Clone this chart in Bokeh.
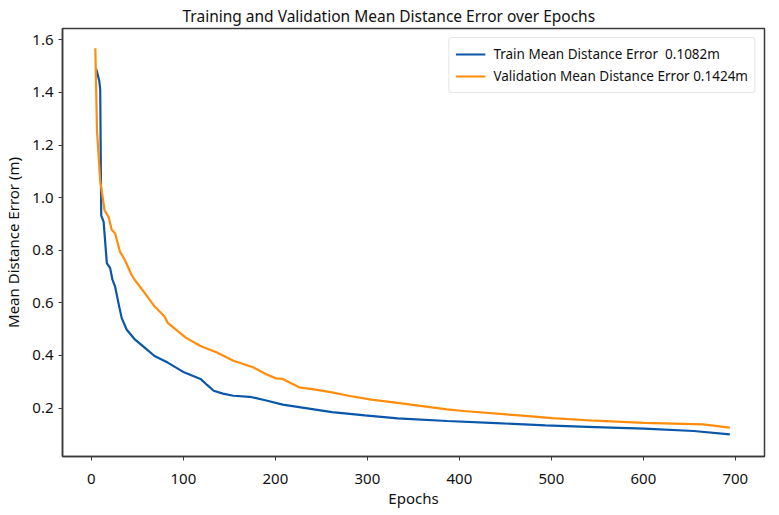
from bokeh.plotting import figure
from bokeh.models import Range1d, FixedTicker, Legend, LegendItem, PrintfTickFormatter
from bokeh.embed import file_html
from bokeh.resources import INLINE

# values
train_epochs = [5, 6, 8.6, 9.6, 10.7, 13.3, 16.8, 20.4, 22.9, 25.7, 29.4, 32.9, 38.3, 47.2,
                57.9, 68.6, 83, 100.7, 118.6, 125.8, 132.9, 143, 154.3, 172.2, 190.1, 208,
                225.8, 261.5, 297.3, 333, 386.5, 440, 493.5, 547.4, 601, 654.7, 694]
train_err = [1.49, 1.48, 1.443, 1.411, 0.933, 0.908, 0.751, 0.732, 0.688, 0.663, 0.6, 0.543,
             0.499, 0.461, 0.430, 0.398, 0.373, 0.336, 0.311, 0.288, 0.266, 0.255, 0.247,
             0.243, 0.229, 0.213, 0.204, 0.185, 0.172, 0.161, 0.151, 0.143, 0.134, 0.128,
             0.122, 0.113, 0.100]

val_epochs = [4.3, 6.1, 9.6, 14.3, 18.6, 22.2, 25.7, 31, 36.4, 43.6, 47, 57.9, 68.6, 79.3,
              83, 102.6, 118.6, 136.5, 154.3, 175.8, 190, 200.8, 208, 225.8, 243.7, 261.5,
              279.4, 304.4, 333, 386.5, 404.4, 465, 501, 547.4, 601, 665, 694]
val_err = [1.568, 1.254, 1.065, 0.952, 0.927, 0.877, 0.865, 0.795, 0.763, 0.707, 0.688,
           0.638, 0.587, 0.549, 0.524, 0.468, 0.436, 0.411, 0.380, 0.355, 0.329, 0.313,
           0.311, 0.279, 0.270, 0.260, 0.247, 0.232, 0.220, 0.195, 0.189, 0.172, 0.162,
           0.152, 0.144, 0.138, 0.126]

x_ticks = [0, 100, 200, 300, 400, 500, 600, 700]
y_ticks = [0.2, 0.4, 0.6, 0.8, 1.0, 1.2, 1.4, 1.6]

train_label = "Train Mean Distance Error  0.1082m"
val_label = "Validation Mean Distance Error 0.1424m"

FONT = "Noto Sans"
EDGE = "#3a3a3a"
INK = "#111111"

p = figure(width=771, height=510, output_backend="svg", toolbar_location=None,
           x_range=Range1d(-31.4, 731.7), y_range=Range1d(0.016, 1.643),
           title="Training and Validation Mean Distance Error over Epochs",
           min_border_left=52, min_border_right=7, min_border_top=19, min_border_bottom=10)

p.title.align = "left"
p.title.offset = 120
p.title.text_font = FONT
p.title.text_font_size = "15.5px"
p.title.text_font_style = "normal"
p.title.text_color = INK
p.title.standoff = 4

p.xgrid.visible = False
p.ygrid.visible = False
p.outline_line_color = EDGE
p.outline_line_width = 1.5

for ax in (p.xaxis[0], p.yaxis[0]):
    ax.axis_line_color = EDGE
    ax.axis_line_width = 1.5
    ax.major_tick_line_color = EDGE
    ax.major_tick_in = 0
    ax.major_tick_out = 4
    ax.minor_tick_line_color = None
    ax.major_label_text_font = FONT
    ax.major_label_text_font_size = "15px"
    ax.major_label_text_color = INK
    ax.axis_label_text_font = FONT
    ax.axis_label_text_font_size = "15px"
    ax.axis_label_text_font_style = "normal"
    ax.axis_label_text_color = INK

p.xaxis.ticker = FixedTicker(ticks=x_ticks)
p.yaxis.ticker = FixedTicker(ticks=y_ticks)
p.yaxis.formatter = PrintfTickFormatter(format="%.1f")
p.xaxis.axis_label = "Epochs"
p.xaxis.major_label_standoff = 13
p.xaxis.axis_label_standoff = 1
p.yaxis.axis_label = "Mean Distance Error (m)"
p.yaxis.axis_label_standoff = 6

r_train = p.line(train_epochs, train_err, line_color="#0a56a8", line_width=2.2)
r_val = p.line(val_epochs, val_err, line_color="#ff8c0a", line_width=2.2)

legend = Legend(items=[LegendItem(label=train_label, renderers=[r_train]),
                       LegendItem(label=val_label, renderers=[r_val])],
                location="top_right")
legend.label_text_font = FONT
legend.label_text_font_size = "13.5px"
legend.label_text_color = INK
legend.border_line_color = "#cccccc"
legend.border_line_width = 1
legend.border_radius = 3
legend.margin = 9
legend.padding = 6
legend.spacing = 2
legend.glyph_width = 30
legend.label_standoff = 8
p.add_layout(legend)

open("out.html", "w").write(file_html(p, INLINE))
